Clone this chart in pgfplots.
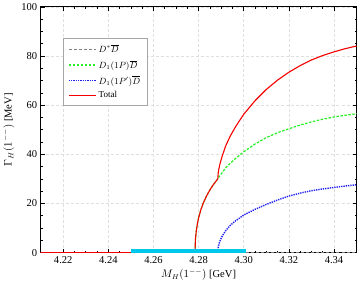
\documentclass[border=0pt]{standalone}
\usepackage{fontspec}
\setmainfont{Liberation Serif}
\usepackage{pgfplots}
\pgfplotsset{compat=1.18}
\definecolor{mygreen}{RGB}{40,240,40}
\definecolor{myblue}{RGB}{30,30,240}
\definecolor{mycyan}{RGB}{0,200,235}
\definecolor{myred}{RGB}{245,0,0}
\begin{document}
\begin{tikzpicture}
\begin{axis}[
  scale only axis,
  width=315pt, height=245pt,
  xmin=4.21, xmax=4.35, ymin=0, ymax=100,
  xtick={4.22,4.24,4.26,4.28,4.30,4.32,4.34},
  xticklabels={4.22,4.24,4.26,4.28,4.30,4.32,4.34},
  ytick={0,20,40,60,80,100},
  minor x tick num=3, minor y tick num=3,
  tick align=inside,
  major tick length=4pt, minor tick length=2pt,
  every tick/.style={black, line width=0.6pt},
  axis line style={line width=0.9pt},
  grid=major,
  grid style={densely dashed, gray!25, line width=0.5pt},
  tick label style={font=\fontsize{10.5}{12}\selectfont},
  /pgf/number format/assume math mode=true,
  xlabel={$M_H(1^{--})$ [GeV]},
  ylabel={$\Gamma_H(1^{--})$ [MeV]},
  label style={font=\fontsize{10.5}{12}\selectfont},
  xlabel style={yshift=1pt},
  legend style={at={(0.07,0.873)}, anchor=north west, draw=gray!70, line width=0.8pt,
    font=\fontsize{9}{10}\selectfont, row sep=2pt, inner xsep=5pt, inner ysep=4pt},
  legend cell align=left,
]
\addlegendimage{legend image code/.code={\draw[gray, densely dashed, line width=1pt] (0cm,0cm) -- (0.95cm,0cm);}}
\addlegendentry{$D^{*}\overline{D}$}
\addlegendimage{legend image code/.code={\draw[mygreen, dash pattern=on 2.5pt off 1.5pt, line width=1.3pt] (0cm,0cm) -- (0.95cm,0cm);}}
\addlegendentry{$D_1(1P)\overline{D}$}
\addlegendimage{legend image code/.code={\draw[myblue, dash pattern=on 1.3pt off 1pt, line width=1.4pt] (0cm,0cm) -- (0.95cm,0cm);}}
\addlegendentry{$D_1(1P')\overline{D}$}
\addlegendimage{legend image code/.code={\draw[myred, solid, line width=1.2pt] (0cm,0cm) -- (0.95cm,0cm);}}
\addlegendentry{Total}
\addplot[draw=gray, densely dashed, line width=0.9pt, forget plot] coordinates {(4.21,0) (4.35,0)};
\addplot[draw=mygreen, dash pattern=on 2.5pt off 1.5pt, line width=1.2pt, forget plot] coordinates {
(4.2784,0) (4.2786,5.4) (4.2790,9.0) (4.2795,11.9) (4.2800,14.1) (4.2810,17.4)
(4.2820,20.0) (4.2835,23.0) (4.2850,25.5) (4.2865,27.6) (4.2885,30.0) (4.2887,30.3)
(4.2890,30.7) (4.2895,31.4) (4.2905,32.6) (4.2920,34.5) (4.2940,36.3) (4.2965,38.4)
(4.3000,41.0) (4.3050,44.2) (4.3100,46.8) (4.3150,48.8) (4.3200,50.4) (4.3250,51.9)
(4.3300,53.2) (4.3350,54.3) (4.3400,55.2) (4.3450,55.9) (4.3500,56.5)};
\addplot[draw=myblue, dash pattern=on 1.3pt off 1pt, line width=1.4pt, forget plot] coordinates {
(4.2885,0) (4.2887,2.1) (4.2890,3.4) (4.2895,4.8) (4.2905,6.8) (4.2920,8.9)
(4.2940,11.1) (4.2965,13.0) (4.3000,15.3) (4.3050,17.6) (4.3100,19.6) (4.3150,21.4)
(4.3200,23.0) (4.3250,24.2) (4.3300,25.2) (4.3350,25.9) (4.3400,26.5) (4.3450,27.1)
(4.3500,27.6)};
\addplot[draw=myred, solid, line width=1.1pt, forget plot] coordinates {
(4.21,0) (4.2784,0) (4.2786,5.4) (4.2790,9.0) (4.2795,11.9) (4.2800,14.1) (4.2810,17.4)
(4.2820,20.0) (4.2835,23.0) (4.2850,25.5) (4.2865,27.6) (4.2885,30.0) (4.2887,32.4)
(4.2890,34.1) (4.2895,36.2) (4.2905,39.4) (4.2920,43.4) (4.2940,47.4) (4.2965,51.4)
(4.3000,56.3) (4.3050,61.8) (4.3100,66.4) (4.3150,70.2) (4.3200,73.4) (4.3250,76.1)
(4.3300,78.4) (4.3350,80.2) (4.3400,81.7) (4.3450,83.0) (4.3500,84.1)};
\addplot[draw=mycyan, line width=7pt, forget plot] coordinates {(4.25,0) (4.301,0)};
\end{axis}
\end{tikzpicture}
\end{document}
